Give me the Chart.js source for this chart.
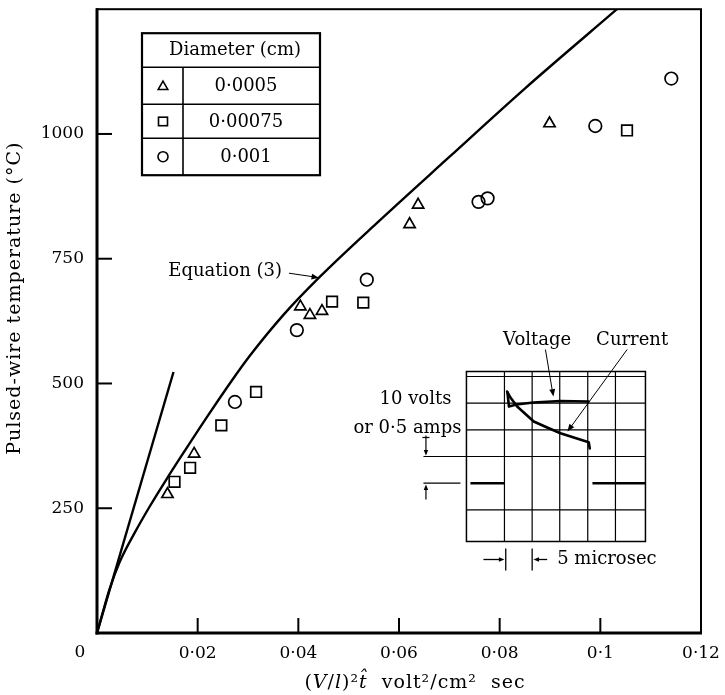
<!DOCTYPE html>
<html><head><meta charset="utf-8">
<script src="https://cdn.jsdelivr.net/npm/chart.js@4/dist/chart.umd.min.js"></script>
<style>html,body{margin:0;padding:0;background:#fff;}#wrap{width:725px;height:695px;position:relative;}</style>
</head><body><div id="wrap"><canvas id="c"></canvas></div>
<script>
// ---- data ----
const xTicks = [0, 0.02, 0.04, 0.06, 0.08, 0.1, 0.12];
const xTickLabels = ['0', '0·02', '0·04', '0·06', '0·08', '0·1', '0·12'];
const yTicks = [250, 500, 750, 1000];
const yTickLabels = ['250', '500', '750', '1000'];
const xAxisTitle = ['(', 'V', '/', 'l', ')²', 't̂', '  volt²/cm²  sec'];
const yAxisTitle = 'Pulsed-wire temperature (°C)';
const legendTitle = 'Diameter (cm)';
const seriesNames = ['0·0005', '0·00075', '0·001'];

const d0005X = [0.0140, 0.0193, 0.0404, 0.0423, 0.0447, 0.0621, 0.0638, 0.0899];
const d0005Y = [278, 359, 654, 637, 645, 819, 858, 1021];
const d00075X = [0.0154, 0.0185, 0.0247, 0.0316, 0.0467, 0.0529, 0.1053];
const d00075Y = [303, 331, 416, 483, 664, 662, 1007];
const d001X = [0.0274, 0.0397, 0.0536, 0.0758, 0.0776, 0.0990, 0.1141];
const d001Y = [463, 607, 708, 864, 871, 1016, 1111];

const eqX = [0, 0.001, 0.0025, 0.0045, 0.0075, 0.0105, 0.0138, 0.0175, 0.022, 0.0268, 0.0304, 0.037, 0.0443, 0.055, 0.07, 0.085, 0.1033];
const eqY = [0, 36, 88, 142, 201, 254, 308, 366, 435, 506, 556, 637, 714, 816, 954, 1091, 1250];
const steepX = [0, 0.0152];
const steepY = [0, 523];

const eqLabel = 'Equation (3)';
const eqArrowTip = [0.0441, 713];
const insetAnchor = [0.0734, 524];

const pts = (xs, ys) => xs.map((x, i) => ({x: x, y: ys[i]}));
const FF = '"DejaVu Serif", serif';
Chart.defaults.font.family = FF;
Chart.defaults.color = '#000';

function line(ctx, x1, y1, x2, y2) { ctx.beginPath(); ctx.moveTo(x1, y1); ctx.lineTo(x2, y2); ctx.stroke(); }
function head(ctx, x1, y1, x2, y2, s) {
  const a = Math.atan2(y2 - y1, x2 - x1);
  ctx.beginPath(); ctx.moveTo(x2, y2);
  ctx.lineTo(x2 - s * Math.cos(a - 0.38), y2 - s * Math.sin(a - 0.38));
  ctx.lineTo(x2 - s * Math.cos(a + 0.38), y2 - s * Math.sin(a + 0.38));
  ctx.closePath(); ctx.fill();
}
function tri(ctx, x, y, r) {
  ctx.beginPath();
  for (let k = 0; k < 3; k++) { const a = -Math.PI / 2 + k * 2 * Math.PI / 3; const px = x + r * Math.cos(a), py = y + r * Math.sin(a); k ? ctx.lineTo(px, py) : ctx.moveTo(px, py); }
  ctx.closePath(); ctx.stroke();
}

const decor = {
  id: 'decor',
  afterDraw(chart) {
    const ctx = chart.ctx, ca = chart.chartArea, xs = chart.scales.x, ys = chart.scales.y;
    const P = (v, t) => [xs.getPixelForValue(v), ys.getPixelForValue(t)];
    ctx.save();
    ctx.strokeStyle = '#000'; ctx.fillStyle = '#000';
    // frame
    ctx.lineWidth = 2; ctx.strokeRect(ca.left, ca.top, ca.right - ca.left, ca.bottom - ca.top);
    ctx.lineWidth = 3;
    line(ctx, ca.left, ca.top - 1, ca.left, ca.bottom + 1.5);
    line(ctx, ca.left - 1.5, ca.bottom, ca.right + 1, ca.bottom);
    // inward ticks
    ctx.lineWidth = 2;
    xTicks.forEach(v => { if (v <= 0 || v >= 0.12) return; const x = xs.getPixelForValue(v); line(ctx, x, ca.bottom, x, ca.bottom - 15); });
    yTicks.forEach(t => { const y = ys.getPixelForValue(t); line(ctx, ca.left, y, ca.left + 15, y); });
    // origin label
    ctx.font = '17px ' + FF; ctx.textAlign = 'center'; ctx.textBaseline = 'middle';
    ctx.fillText(xTickLabels[0], ca.left - 17, ca.bottom + 20);

    // y title
    ctx.save();
    ctx.translate(ca.left - 82, ca.top + 289); ctx.rotate(-Math.PI / 2);
    ctx.font = '19px ' + FF; ctx.letterSpacing = '1px';
    ctx.fillText(yAxisTitle, 0, 0);
    ctx.restore();

    // x title (mixed italic)
    ctx.save();
    ctx.letterSpacing = '1px'; ctx.textAlign = 'left'; ctx.textBaseline = 'middle';
    const fonts = xAxisTitle.map((s, i) => (i === 1 || i === 3 || i === 5) ? 'italic 19px ' + FF : '19px ' + FF);
    let total = 0; const w = xAxisTitle.map((s, i) => { ctx.font = fonts[i]; const m = ctx.measureText(s).width; total += m; return m; });
    let cx = ca.left + 318 - total / 2; const cy = ca.bottom + 50;
    xAxisTitle.forEach((s, i) => { ctx.font = fonts[i]; ctx.fillText(s, cx, cy); cx += w[i]; });
    ctx.restore();

    // legend table
    const L = ca.left + 45, T = ca.top + 24, R = ca.left + 223, B = ca.top + 166;
    const rows = [T + 34, T + 71, T + 105];
    const colX = ca.left + 86;
    ctx.lineWidth = 2.2; ctx.strokeRect(L, T, R - L, B - T);
    ctx.lineWidth = 1.6;
    rows.forEach(y => line(ctx, L, y, R, y));
    line(ctx, colX, rows[0], colX, B);
    ctx.font = '18px ' + FF; ctx.textAlign = 'center'; ctx.textBaseline = 'middle';
    ctx.fillText(legendTitle, (L + R) / 2 + 4, T + 17);
    const rc = [(rows[0] + rows[1]) / 2, (rows[1] + rows[2]) / 2, (rows[2] + B) / 2];
    seriesNames.forEach((s, i) => ctx.fillText(s, colX + 63, rc[i] + 1));
    const sx = ca.left + 66;
    ctx.lineWidth = 1.6;
    tri(ctx, sx, rc[0] + 1, 5.5);
    ctx.strokeRect(sx - 4.5, rc[1] - 4, 9, 8.5);
    ctx.beginPath(); ctx.arc(sx, rc[2], 5, 0, Math.PI * 2); ctx.stroke();

    // Equation (3) label + arrow
    const [tx, ty] = P(eqArrowTip[0], eqArrowTip[1]);
    ctx.font = '18px ' + FF; ctx.textAlign = 'right'; ctx.textBaseline = 'middle';
    ctx.fillText(eqLabel, tx - 37, ty - 6);
    ctx.lineWidth = 1; line(ctx, tx - 30, ty - 4, tx - 3, ty);
    head(ctx, tx - 30, ty - 4, tx, ty + 0.5, 8);

    // inset oscilloscope trace
    const [ax, ay] = P(insetAnchor[0], insetAnchor[1]);
    ctx.save(); ctx.translate(ax, ay);
    ctx.lineWidth = 1.5; ctx.strokeRect(0, 0, 179, 170);
    ctx.lineWidth = 1.2;
    [38, 65.7, 93.3, 121.3, 149].forEach(x => line(ctx, x, 0, x, 170));
    [5, 31.7, 58.3, 85, 138.3].forEach(y => line(ctx, 0, y, 179, y));
    line(ctx, -43, 85, 0, 85);
    line(ctx, -43, 111.7, -6, 111.7);
    ctx.lineWidth = 2.6;
    line(ctx, 4, 111.7, 38, 111.7);
    line(ctx, 126, 111.7, 179, 111.7);
    // marker arrows
    ctx.lineWidth = 1.2;
    line(ctx, -40.5, 64, -40.5, 82); head(ctx, -40.5, 70, -40.5, 84, 6); line(ctx, -44, 66, -37, 66);
    line(ctx, -40.5, 128, -40.5, 116); head(ctx, -40.5, 124, -40.5, 113, 6);
    // voltage & current traces
    ctx.lineWidth = 2.6; ctx.lineJoin = 'round'; ctx.lineCap = 'round';
    const volt = [[41, 21], [42.5, 35], [50, 33], [67, 31], [94, 29.5], [122, 30]];
    const curr = [[40.7, 20], [44, 26], [50.7, 35], [67.3, 50], [80.7, 56], [94, 61.7], [107.3, 66], [122.3, 70.7], [123.3, 77]];
    [volt, curr].forEach(p => { ctx.beginPath(); p.forEach((q, i) => i ? ctx.lineTo(q[0], q[1]) : ctx.moveTo(q[0], q[1])); ctx.stroke(); });
    ctx.lineCap = 'butt';
    ctx.font = '18px ' + FF; ctx.textAlign = 'center'; ctx.textBaseline = 'middle';
    ctx.fillText('Voltage', 70.7, -31);
    ctx.fillText('Current', 165.7, -31);
    ctx.fillText('10 volts', -51, 28);
    ctx.textAlign = 'right';
    ctx.fillText('or 0·5 amps', -5, 57);
    ctx.textAlign = 'center';
    ctx.lineWidth = 1;
    line(ctx, 79, -22, 86, 20); head(ctx, 79, -22, 87, 25, 8);
    line(ctx, 160.7, -22, 104, 56); head(ctx, 160.7, -22, 101, 60, 8);
    // 5 microsec
    ctx.lineWidth = 1.3;
    line(ctx, 39.3, 177, 39.3, 199); line(ctx, 65.7, 177, 65.7, 199);
    line(ctx, 17, 188, 34, 188); head(ctx, 17, 188, 38, 188, 6);
    line(ctx, 80.7, 188, 71, 188); head(ctx, 80.7, 188, 67, 188, 6);
    ctx.textAlign = 'left';
    ctx.fillText('5 microsec', 90.7, 188);
    ctx.restore();

    ctx.restore();
  }
};

const mk = { borderColor: '#000', backgroundColor: 'rgba(0,0,0,0)', borderWidth: 1.7, showLine: false };
new Chart(document.getElementById('c'), {
  type: 'scatter',
  data: {
    datasets: [
      { label: 'Equation (3)', data: pts(eqX, eqY), showLine: true, borderColor: '#000', borderWidth: 2.4, pointRadius: 0, cubicInterpolationMode: 'monotone', fill: false },
      { label: 'steep', data: pts(steepX, steepY), showLine: true, borderColor: '#000', borderWidth: 2.4, pointRadius: 0, fill: false },
      Object.assign({ label: seriesNames[0], data: pts(d0005X, d0005Y), pointStyle: 'triangle', pointRadius: 6.5 }, mk),
      Object.assign({ label: seriesNames[1], data: pts(d00075X, d00075Y), pointStyle: 'rect', pointRadius: 7.5 }, mk),
      Object.assign({ label: seriesNames[2], data: pts(d001X, d001Y), pointStyle: 'circle', pointRadius: 6.3 }, mk)
    ]
  },
  options: {
    responsive: true, maintainAspectRatio: false, animation: false, events: [],
    layout: { padding: { top: 4, right: 24, left: 0, bottom: 0 } },
    plugins: { legend: { display: false }, tooltip: { enabled: false } },
    scales: {
      x: {
        type: 'linear', min: 0, max: 0.12,
        grid: { display: false, drawTicks: false }, border: { display: false },
        afterBuildTicks: s => { s.ticks = xTicks.map(v => ({ value: v })); },
        afterFit: s => { s.height = 62; s.paddingLeft = 0; s.paddingRight = 0; },
        ticks: { autoSkip: false, maxRotation: 0, padding: 10, font: { size: 17 }, color: '#000',
          callback: (v, i) => i === 0 ? '' : xTickLabels[i] }
      },
      y: {
        type: 'linear', min: 0, max: 1250,
        grid: { display: false, drawTicks: false }, border: { display: false },
        afterBuildTicks: s => { s.ticks = yTicks.map(v => ({ value: v })); },
        afterFit: s => { s.width = 97; s.paddingTop = 0; s.paddingBottom = 0; },
        ticks: { autoSkip: false, padding: 13, font: { size: 17 }, color: '#000',
          callback: (v, i) => yTickLabels[i] }
      }
    }
  },
  plugins: [decor]
});
</script></body></html>
